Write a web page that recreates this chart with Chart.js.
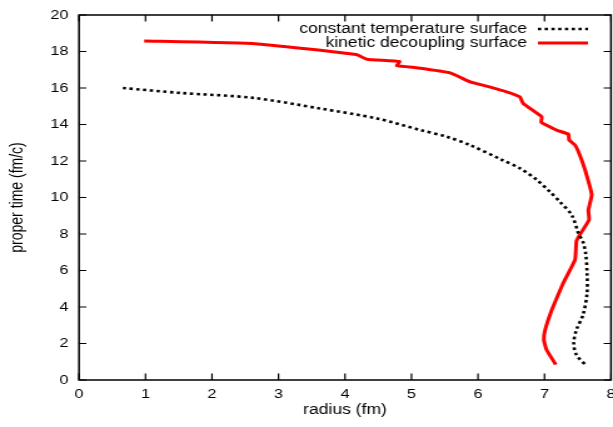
<!DOCTYPE html>
<html>
<head>
<meta charset="utf-8">
<script src="https://cdn.jsdelivr.net/npm/chart.js@4/dist/chart.umd.min.js"></script>
<style>
html,body{margin:0;padding:0;background:#fff;}
#wrap{width:613px;height:427px;overflow:hidden;position:relative;}
#c{position:absolute;left:0;top:0;transform:scaleX(1.251);transform-origin:0 0;}
</style>
</head>
<body>
<div id="wrap"><canvas id="c" width="490" height="427"></canvas></div>
<script>
// ---- data ----
const seriesLabels = ["constant temperature surface", "kinetic decoupling surface"];
const xTickValues = [0, 1, 2, 3, 4, 5, 6, 7, 8];
const yTickValues = [0, 2, 4, 6, 8, 10, 12, 14, 16, 18, 20];
const xTitle = "radius (fm)";
const yTitle = "proper time (fm/c)";

const tempRadius = [0.66, 1.52, 2.62, 3.62, 4.48, 5.13, 5.53, 5.88, 6.35, 6.63, 6.88, 7.08, 7.23, 7.41, 7.51, 7.58, 7.62, 7.64, 7.64, 7.58, 7.48, 7.44, 7.48, 7.63];
const tempTime   = [16.0, 15.73, 15.46, 14.88, 14.33, 13.7, 13.33, 12.87, 12.08, 11.6, 10.98, 10.32, 9.77, 9.04, 8.04, 7.55, 6.9, 5.85, 4.76, 3.57, 2.75, 2.02, 1.38, 0.78];

const kinRadius = [0.98, 2.65, 4.17, 4.33, 4.82, 4.78, 5.1, 5.58, 5.88, 6.13, 6.43, 6.63, 6.68, 6.96, 6.95, 7.18, 7.36, 7.37, 7.46, 7.53, 7.61, 7.71, 7.66, 7.67, 7.53, 7.48, 7.46, 7.28, 7.11, 7.01, 6.99, 7.03, 7.17];
const kinTime   = [18.58, 18.43, 17.83, 17.58, 17.45, 17.22, 17.1, 16.83, 16.34, 16.1, 15.79, 15.51, 15.15, 14.42, 14.12, 13.69, 13.47, 13.15, 12.87, 12.33, 11.51, 10.14, 9.32, 8.77, 7.95, 7.6, 6.6, 5.3, 3.85, 2.75, 2.2, 1.66, 0.84];

const toPoints = (xs, ys) => xs.map((x, i) => ({x: x, y: ys[i]}));

const FONT = "'Liberation Sans', Arial, Helvetica, sans-serif";
const TICK = 6.5;

const framePlugin = {
  id: 'frame',
  afterDraw(chart) {
    const {ctx, chartArea: a, scales} = chart;
    ctx.save();
    ctx.strokeStyle = '#000';
    ctx.lineWidth = 1.5;
    ctx.strokeRect(a.left, a.top, a.right - a.left, a.bottom - a.top);
    ctx.lineWidth = 1.2;
    ctx.beginPath();
    xTickValues.forEach(v => {
      const px = scales.x.getPixelForValue(v);
      ctx.moveTo(px, a.bottom); ctx.lineTo(px, a.bottom - TICK);
      ctx.moveTo(px, a.top); ctx.lineTo(px, a.top + TICK);
    });
    yTickValues.forEach(v => {
      const py = scales.y.getPixelForValue(v);
      ctx.moveTo(a.left, py); ctx.lineTo(a.left + TICK * 0.9, py);
      ctx.moveTo(a.right, py); ctx.lineTo(a.right - TICK * 0.9, py);
    });
    ctx.stroke();

    // key (legend), gnuplot style: text right-aligned, sample on the right
    ctx.font = '14px ' + FONT;
    ctx.textAlign = 'right';
    ctx.textBaseline = 'middle';
    ctx.fillStyle = '#000';
    const textRight = 421.3, s0 = 430, s1 = 470;
    const rows = [29, 43];
    chart.data.datasets.forEach((ds, i) => {
      const y = rows[i];
      ctx.fillText(ds.label, textRight, y);
      ctx.save();
      ctx.strokeStyle = ds.borderColor;
      ctx.lineWidth = ds.borderWidth;
      ctx.setLineDash(ds.borderDash || []);
      ctx.beginPath();
      ctx.moveTo(s0, y); ctx.lineTo(s1, y);
      ctx.stroke();
      ctx.restore();
    });
    ctx.restore();
  }
};

new Chart(document.getElementById('c'), {
  type: 'scatter',
  data: {
    datasets: [
      {
        label: seriesLabels[0],
        data: toPoints(tempRadius, tempTime),
        showLine: true,
        borderColor: '#000000',
        borderWidth: 2.6,
        borderDash: [2.6, 2.8],
        pointRadius: 0,
        tension: 0.3,
        fill: false
      },
      {
        label: seriesLabels[1],
        data: toPoints(kinRadius, kinTime),
        showLine: true,
        borderColor: '#ff0000',
        borderWidth: 3,
        pointRadius: 0,
        tension: 0.1,
        fill: false
      }
    ]
  },
  options: {
    responsive: false,
    animation: false,
    devicePixelRatio: 1,
    layout: {padding: {left: 0, right: 1.6, top: 15, bottom: 0}},
    plugins: {legend: {display: false}, tooltip: {enabled: false}},
    scales: {
      x: {
        type: 'linear', min: 0, max: 8,
        afterBuildTicks(s) { s.ticks = xTickValues.map(v => ({value: v})); },
        afterFit(s) { s.height = 47; s.paddingLeft = 0; s.paddingRight = 0; },
        grid: {display: false, drawTicks: false},
        border: {display: false},
        ticks: {autoSkip: false, maxRotation: 0, padding: 7, color: '#000', font: {family: FONT, size: 13}},
        title: {display: true, text: xTitle, color: '#000', font: {family: FONT, size: 14}, padding: {top: 0, bottom: 8}}
      },
      y: {
        type: 'linear', min: 0, max: 20,
        afterBuildTicks(s) { s.ticks = yTickValues.map(v => ({value: v})); },
        afterFit(s) { s.width = 63.15; s.paddingTop = 0; s.paddingBottom = 0; },
        grid: {display: false, drawTicks: false},
        border: {display: false},
        ticks: {autoSkip: false, padding: 8.5, color: '#000', font: {family: FONT, size: 13}},
        title: {display: true, text: yTitle, color: '#000', font: {family: FONT, size: 14}, padding: {top: 6, bottom: 0}}
      }
    }
  },
  plugins: [framePlugin]
});
</script>
</body>
</html>
